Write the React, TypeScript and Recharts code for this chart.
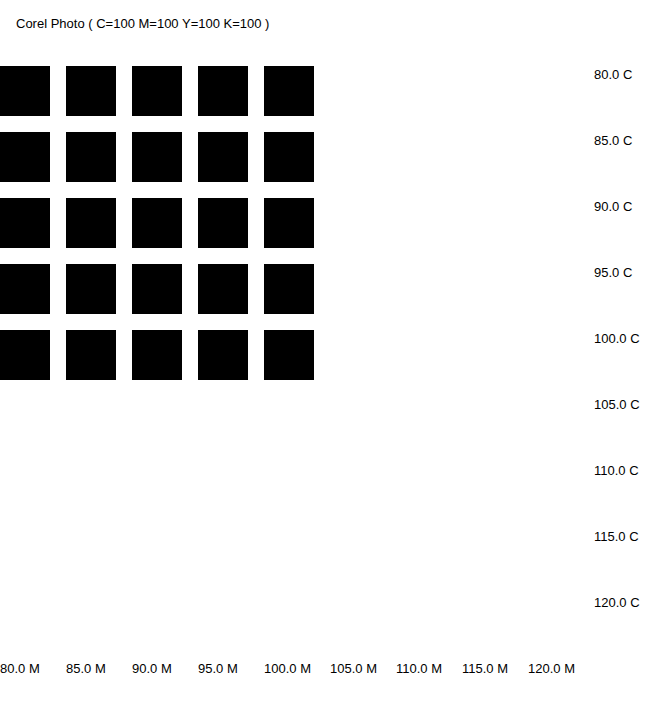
import { ScatterChart, Scatter, XAxis, YAxis } from 'recharts';

const title = 'Corel Photo ( C=100 M=100 Y=100 K=100 )';

const magentaLevels = [80, 85, 90, 95, 100];
const cyanLevels = [80, 85, 90, 95, 100];

const xTicks = [80, 85, 90, 95, 100, 105, 110, 115, 120];
const xTickLabels = ['80.0 M', '85.0 M', '90.0 M', '95.0 M', '100.0 M', '105.0 M', '110.0 M', '115.0 M', '120.0 M'];
const yTicks = [80, 85, 90, 95, 100, 105, 110, 115, 120];
const yTickLabels = ['80.0 C', '85.0 C', '90.0 C', '95.0 C', '100.0 C', '105.0 C', '110.0 C', '115.0 C', '120.0 C'];

const swatches = cyanLevels.flatMap((c) => magentaLevels.map((m) => ({ m, c })));

const FONT = 'Arial, "Liberation Sans", sans-serif';

function XTick({ x, y, index }: any) {
  return (
    <text x={x} y={y + 8} textAnchor="start" dominantBaseline="central" fontSize={13} fontFamily={FONT} fill="#000">
      {xTickLabels[index]}
    </text>
  );
}

function YTick({ x, y, index }: any) {
  return (
    <text x={x} y={y + 8} textAnchor="start" dominantBaseline="central" fontSize={13} fontFamily={FONT} fill="#000">
      {yTickLabels[index]}
    </text>
  );
}

function Swatch({ cx, cy }: any) {
  return <rect x={cx} y={cy} width={50} height={50} fill="#000" />;
}

export default function App() {
  return (
    <div style={{ position: 'absolute', left: 0, top: 0, width: 660, height: 726, background: '#fff' }}>
      <div
        style={{
          position: 'absolute',
          left: 16,
          top: 16,
          fontFamily: FONT,
          fontSize: 13,
          lineHeight: '16px',
          color: '#000',
          whiteSpace: 'nowrap',
        }}
      >
        {title}
      </div>
      <ScatterChart width={660} height={726} margin={{ top: 66, right: 0, bottom: 36, left: 0 }}>
        <XAxis
          type="number"
          dataKey="m"
          domain={[80, 125]}
          ticks={xTicks}
          allowDataOverflow
          axisLine={false}
          tickLine={false}
          tickSize={0}
          tickMargin={0}
          height={30}
          tick={<XTick />}
          interval={0}
        />
        <YAxis
          type="number"
          dataKey="c"
          orientation="right"
          reversed
          domain={[80, 125]}
          ticks={yTicks}
          allowDataOverflow
          axisLine={false}
          tickLine={false}
          tickSize={0}
          tickMargin={0}
          width={66}
          tick={<YTick />}
          interval={0}
        />
        <Scatter data={swatches} shape={<Swatch />} isAnimationActive={false} />
      </ScatterChart>
    </div>
  );
}
